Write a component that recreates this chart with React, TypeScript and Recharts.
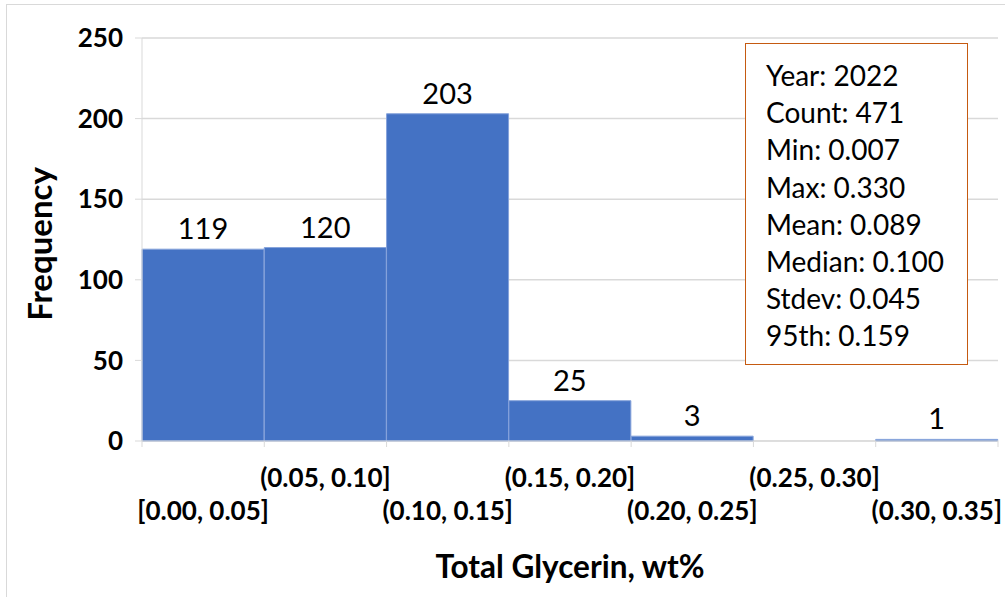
import React from 'react';
import {
  BarChart,
  Bar,
  XAxis,
  YAxis,
  CartesianGrid,
  LabelList,
} from 'recharts';

const categories = [
  '[0.00, 0.05]',
  '(0.05, 0.10]',
  '(0.10, 0.15]',
  '(0.15, 0.20]',
  '(0.20, 0.25]',
  '(0.25, 0.30]',
  '(0.30, 0.35]',
];
const frequencies = [119, 120, 203, 25, 3, 0, 1];
const yTicks = [0, 50, 100, 150, 200, 250];
const statLines = [
  'Year: 2022',
  'Count: 471',
  'Min: 0.007',
  'Max: 0.330',
  'Mean: 0.089',
  'Median: 0.100',
  'Stdev: 0.045',
  '95th: 0.159',
];

const W = 1005;
const H = 597;
const PLOT_LEFT = 142;
const PLOT_RIGHT = 998;
const PLOT_TOP = 38;
const PLOT_BOTTOM = 441;
const BAND = (PLOT_RIGHT - PLOT_LEFT) / categories.length;
const FONT = 'Lato, Carlito, Calibri, sans-serif';
const GRID = '#d9d9d9';

const data = categories.map((bin, i) => ({ bin, count: frequencies[i] }));

const BinTick: React.FC<any> = ({ x, y, payload, index }) => {
  const isLast = index === categories.length - 1;
  return (
    <g>
      <line x1={x - BAND / 2} x2={x - BAND / 2} y1={y} y2={y + 6} stroke={GRID} />
      {isLast && (
        <line x1={x + BAND / 2} x2={x + BAND / 2} y1={y} y2={y + 6} stroke={GRID} />
      )}
      <text
        x={x}
        y={y + (index % 2 ? 46 : 79)}
        textAnchor="middle"
        fontFamily={FONT}
        fontWeight="bold"
        fontSize={26}
        fill="#000"
      >
        {payload.value}
      </text>
    </g>
  );
};

const CountLabel: React.FC<any> = ({ x, y, width, value }) => {
  if (!value) return null;
  return (
    <text
      x={x + width / 2}
      y={y - 10}
      textAnchor="middle"
      fontFamily={FONT}
      fontSize={29}
      fill="#000"
    >
      {value}
    </text>
  );
};

export default function App() {
  return (
    <div
      style={{
        position: 'absolute',
        left: 0,
        top: 0,
        width: W,
        height: H,
        background: '#fff',
        overflow: 'hidden',
      }}
    >
      <div
        style={{
          position: 'absolute',
          left: 6,
          top: 4,
          width: W,
          height: H,
          borderLeft: `1px solid ${GRID}`,
          borderTop: `1px solid ${GRID}`,
        }}
      />
      <BarChart
        width={W}
        height={H}
        data={data}
        margin={{ top: PLOT_TOP, right: W - PLOT_RIGHT, bottom: 0, left: 0 }}
        barCategoryGap={0}
        style={{ position: 'absolute', left: 0, top: 0 }}
      >
        <CartesianGrid vertical={false} stroke={GRID} strokeWidth={1.5} />
        <XAxis
          dataKey="bin"
          height={H - PLOT_BOTTOM}
          stroke={GRID}
          tickLine={false}
          tickSize={0}
          tickMargin={0}
          interval={0}
          tick={<BinTick />}
          label={{
            content: () => (
              <text
                x={570}
                y={578}
                textAnchor="middle"
                fontFamily={FONT}
                fontWeight="bold"
                fontSize={31.5}
                fill="#000"
              >
                Total Glycerin, wt%
              </text>
            ),
          }}
        />
        <YAxis
          width={PLOT_LEFT}
          domain={[0, 250]}
          ticks={yTicks}
          stroke={GRID}
          tickSize={7}
          tickMargin={12}
          tick={{ fill: '#000', fontFamily: FONT, fontWeight: 'bold', fontSize: 26 }}
          label={{
            content: () => (
              <text
                x={52}
                y={244}
                transform="rotate(-90 52 244)"
                textAnchor="middle"
                fontFamily={FONT}
                fontWeight="bold"
                fontSize={33}
                fill="#000"
              >
                Frequency
              </text>
            ),
          }}
        />
        <Bar
          dataKey="count"
          fill="#4472c4"
          stroke="#86a3db"
          strokeWidth={1}
          isAnimationActive={false}
        >
          <LabelList dataKey="count" content={<CountLabel />} />
        </Bar>
      </BarChart>
      <div
        style={{
          position: 'absolute',
          left: 745,
          top: 43,
          width: 223,
          height: 322,
          boxSizing: 'border-box',
          border: '1.5px solid #c55a11',
          background: '#fff',
          padding: '13px 0 0 20px',
          fontFamily: FONT,
          fontSize: 28,
          lineHeight: '37.2px',
          color: '#000',
        }}
      >
        {statLines.map((line) => (
          <div key={line}>{line}</div>
        ))}
      </div>
    </div>
  );
}
